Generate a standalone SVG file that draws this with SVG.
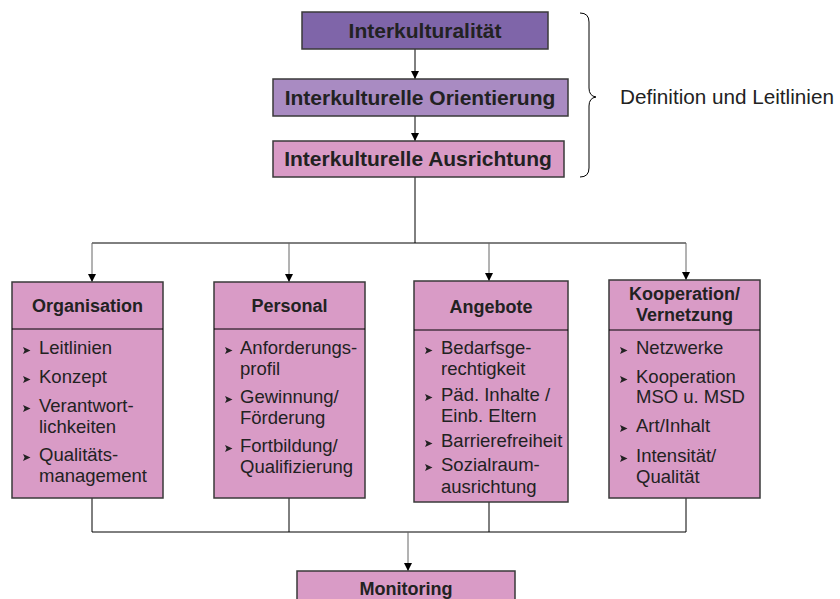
<svg xmlns="http://www.w3.org/2000/svg" width="840" height="599" viewBox="0 0 840 599">
<defs>
<marker id="ah" markerWidth="8" markerHeight="8" refX="8" refY="4" orient="auto" markerUnits="userSpaceOnUse" viewBox="0 0 8 8">
<path d="M0,0 L8,4 L0,8 z" fill="#000"/>
</marker>
<path id="bul" d="M0,-3.6 L7.5,0 L0,3.6 L1.6,0 z" fill="#222"/>
<style>
.box{stroke:#3a3a3a;stroke-width:1.5}
.p1{fill:#7f65a9}
.p2{fill:#a98bc2}
.pk{fill:#d99bc6}
.t{font-family:"Liberation Sans",Arial,sans-serif;fill:#222}
.h{font-weight:bold;font-size:21px;text-anchor:middle}
.hs{font-weight:bold;font-size:18px;text-anchor:middle}
.i{font-size:18.5px}
.c{stroke:#000;stroke-width:1;fill:none}
.g{stroke:#666;stroke-width:1;fill:none}
</style>
</defs>
<rect width="840" height="599" fill="#fff"/>
<g id="connectors">
<line class="c" x1="415" y1="49" x2="415" y2="79" marker-end="url(#ah)"/>
<line class="c" x1="415" y1="116" x2="415" y2="141" marker-end="url(#ah)"/>
<line class="c" x1="415" y1="177" x2="415" y2="243"/>
<line class="c" x1="92" y1="243" x2="686" y2="243"/>
<line class="g" x1="92" y1="243" x2="92" y2="282" marker-end="url(#ah)"/>
<line class="g" x1="289" y1="243" x2="289" y2="282" marker-end="url(#ah)"/>
<line class="g" x1="489" y1="243" x2="489" y2="281" marker-end="url(#ah)"/>
<line class="g" x1="686" y1="243" x2="686" y2="280" marker-end="url(#ah)"/>
<line class="c" x1="92" y1="498" x2="92" y2="532"/>
<line class="c" x1="289" y1="498" x2="289" y2="532"/>
<line class="c" x1="489" y1="502" x2="489" y2="532"/>
<line class="c" x1="686" y1="498" x2="686" y2="532"/>
<line class="c" x1="92" y1="532" x2="686" y2="532"/>
<line class="g" x1="408" y1="532" x2="408" y2="571" marker-end="url(#ah)"/>
<path class="c" d="M580,13 Q589,13 589,22 L589,88 Q589,96 596,97 Q589,98 589,106 L589,168 Q589,177 580,177"/>
</g>
<g id="n-interkulturalitaet">
<rect class="box p1" x="302" y="12" width="246" height="37"/>
<text class="t h" x="425" y="38">Interkulturalität</text>
</g>
<g id="n-orientierung">
<rect class="box p2" x="273" y="79" width="295" height="37"/>
<text class="t h" x="420" y="105">Interkulturelle Orientierung</text>
</g>
<g id="n-ausrichtung">
<rect class="box pk" x="273" y="141" width="291" height="36"/>
<text class="t h" x="418" y="166">Interkulturelle Ausrichtung</text>
</g>
<g id="n-definition">
<text class="t" x="620" y="104" font-size="20.7">Definition und Leitlinien</text>
</g>
<g id="n-organisation">
<rect class="box pk" x="12" y="282" width="151" height="216"/>
<line x1="12" y1="329" x2="163" y2="329" stroke="#000" stroke-width="1"/>
<text class="t hs" x="87.5" y="312">Organisation</text>
<use href="#bul" x="23" y="350.5"/><text class="t i" x="39" y="354">Leitlinien</text>
<use href="#bul" x="23" y="379.5"/><text class="t i" x="39" y="383">Konzept</text>
<use href="#bul" x="23" y="408.5"/><text class="t i" x="39" y="412">Verantwort-</text>
<text class="t i" x="39" y="433">lichkeiten</text>
<use href="#bul" x="23" y="457.5"/><text class="t i" x="39" y="461">Qualitäts-</text>
<text class="t i" x="39" y="482">management</text>
</g>
<g id="n-personal">
<rect class="box pk" x="214" y="282" width="151" height="216"/>
<line x1="214" y1="329" x2="365" y2="329" stroke="#000" stroke-width="1"/>
<text class="t hs" x="289.5" y="312">Personal</text>
<use href="#bul" x="225" y="350.5"/><text class="t i" x="240" y="354">Anforderungs-</text>
<text class="t i" x="240" y="375">profil</text>
<use href="#bul" x="225" y="399.5"/><text class="t i" x="240" y="403">Gewinnung/</text>
<text class="t i" x="240" y="424">Förderung</text>
<use href="#bul" x="225" y="448.5"/><text class="t i" x="240" y="452">Fortbildung/</text>
<text class="t i" x="240" y="473">Qualifizierung</text>
</g>
<g id="n-angebote">
<rect class="box pk" x="414" y="281" width="154" height="221"/>
<line x1="414" y1="330" x2="568" y2="330" stroke="#000" stroke-width="1"/>
<text class="t hs" x="491" y="313">Angebote</text>
<use href="#bul" x="425" y="350.5"/><text class="t i" x="441" y="354">Bedarfsge-</text>
<text class="t i" x="441" y="375">rechtigkeit</text>
<use href="#bul" x="425" y="397.5"/><text class="t i" x="441" y="401">Päd. Inhalte /</text>
<text class="t i" x="441" y="422">Einb. Eltern</text>
<use href="#bul" x="425" y="443.5"/><text class="t i" x="441" y="447">Barrierefreiheit</text>
<use href="#bul" x="425" y="467.5"/><text class="t i" x="441" y="471">Sozialraum-</text>
<text class="t i" x="441" y="493">ausrichtung</text>
</g>
<g id="n-kooperation">
<rect class="box pk" x="609" y="280" width="151" height="218"/>
<line x1="609" y1="330" x2="760" y2="330" stroke="#000" stroke-width="1"/>
<text class="t hs" x="684.5" y="300">Kooperation/</text>
<text class="t hs" x="684.5" y="321">Vernetzung</text>
<use href="#bul" x="620" y="350.5"/><text class="t i" x="636" y="354">Netzwerke</text>
<use href="#bul" x="620" y="379.5"/><text class="t i" x="636" y="383">Kooperation</text>
<text class="t i" x="636" y="403">MSO u. MSD</text>
<use href="#bul" x="620" y="428.5"/><text class="t i" x="636" y="432">Art/Inhalt</text>
<use href="#bul" x="620" y="458.5"/><text class="t i" x="636" y="462">Intensität/</text>
<text class="t i" x="636" y="483">Qualität</text>
</g>
<g id="n-monitoring">
<rect class="box pk" x="297" y="571" width="218" height="40"/>
<text class="t hs" x="406" y="595">Monitoring</text>
</g>
</svg>
